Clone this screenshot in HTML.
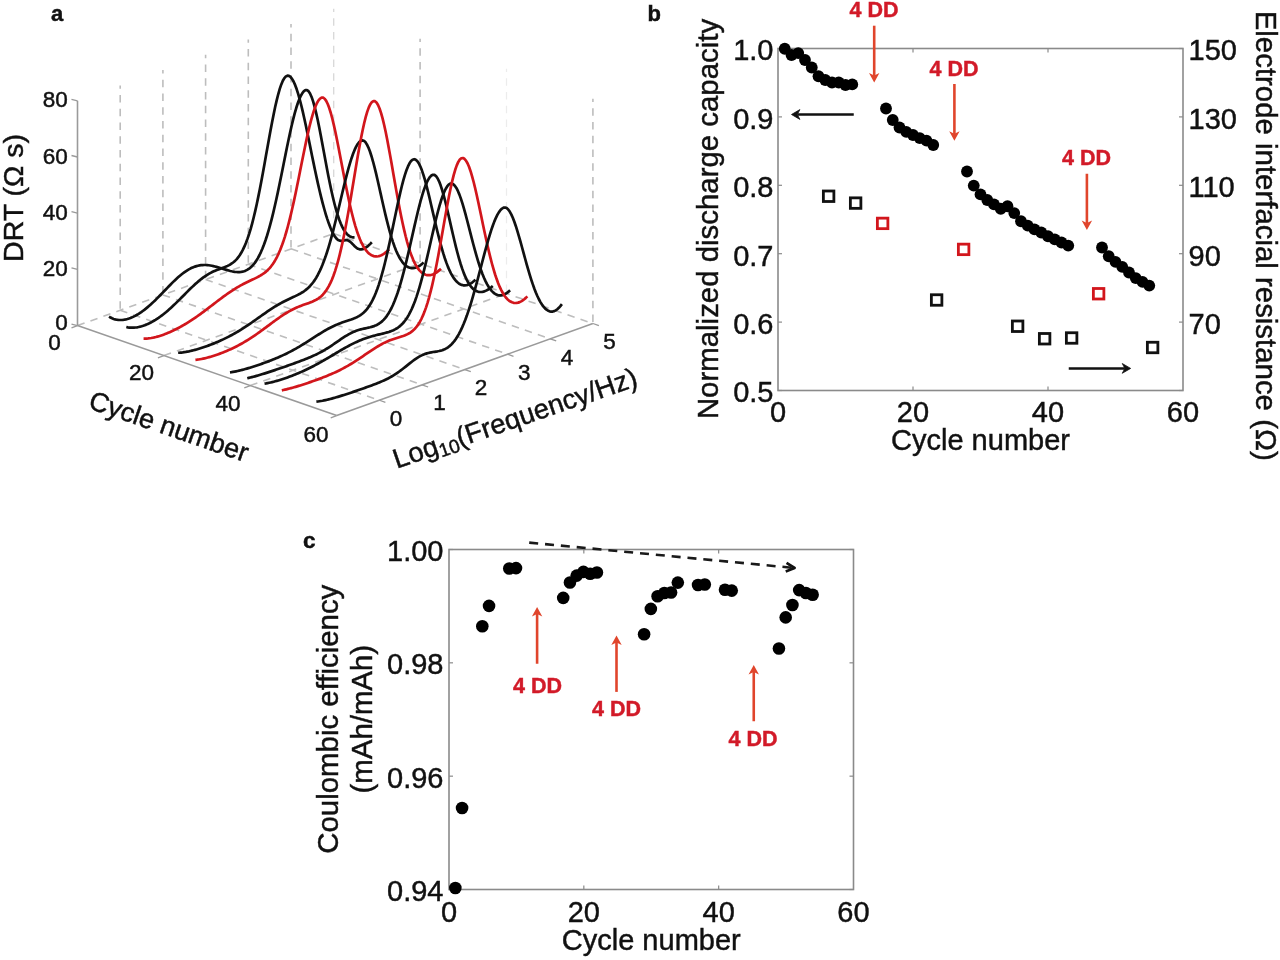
<!DOCTYPE html>
<html><head><meta charset="utf-8"><style>
html,body{margin:0;padding:0;background:#fff;overflow:hidden;width:1280px;height:960px;}
svg{display:block;filter:blur(0.4px);}
text{font-family:"Liberation Sans", sans-serif;}
</style></head><body>
<svg width="1280" height="960" viewBox="0 0 1280 960">
<rect width="1280" height="960" fill="#fff"/>
<g id="pa"><line x1="120.20" y1="310.25" x2="120.20" y2="85.45" stroke="#bdbdbd" stroke-width="1.6" stroke-dasharray="7.5 6.25" fill="none" stroke-dashoffset="-1.4"/>
<line x1="162.90" y1="294.90" x2="162.90" y2="70.10" stroke="#bdbdbd" stroke-width="1.6" stroke-dasharray="7.5 6.25" fill="none" stroke-dashoffset="-1.4"/>
<line x1="205.60" y1="279.55" x2="205.60" y2="54.75" stroke="#bdbdbd" stroke-width="1.6" stroke-dasharray="7.5 6.25" fill="none" stroke-dashoffset="-1.4"/>
<line x1="248.30" y1="264.20" x2="248.30" y2="39.40" stroke="#bdbdbd" stroke-width="1.6" stroke-dasharray="7.5 6.25" fill="none" stroke-dashoffset="-1.4"/>
<line x1="291.00" y1="248.85" x2="291.00" y2="24.05" stroke="#bdbdbd" stroke-width="1.6" stroke-dasharray="7.5 6.25" fill="none" stroke-dashoffset="-1.4"/>
<line x1="333.70" y1="233.50" x2="333.70" y2="8.70" stroke="#d8d8d8" stroke-width="1.3" stroke-dasharray="7.5 6.25" fill="none" stroke-dashoffset="-1.4"/>
<line x1="420.10" y1="263.50" x2="420.10" y2="38.70" stroke="#bdbdbd" stroke-width="1.6" stroke-dasharray="7.5 6.25" fill="none" stroke-dashoffset="-1.4"/>
<line x1="506.50" y1="293.50" x2="506.50" y2="68.70" stroke="#ececec" stroke-width="1.2" stroke-dasharray="7.5 6.25" fill="none" stroke-dashoffset="-1.4"/>
<line x1="592.90" y1="323.50" x2="592.90" y2="98.70" stroke="#bdbdbd" stroke-width="1.6" stroke-dasharray="7.5 6.25" fill="none" stroke-dashoffset="-1.4"/>
<line x1="120.20" y1="310.25" x2="379.40" y2="400.25" stroke="#bdbdbd" stroke-width="1.6" stroke-dasharray="7.5 6.25" fill="none"/>
<line x1="162.90" y1="294.90" x2="422.10" y2="384.90" stroke="#bdbdbd" stroke-width="1.6" stroke-dasharray="7.5 6.25" fill="none"/>
<line x1="205.60" y1="279.55" x2="464.80" y2="369.55" stroke="#bdbdbd" stroke-width="1.6" stroke-dasharray="7.5 6.25" fill="none"/>
<line x1="248.30" y1="264.20" x2="507.50" y2="354.20" stroke="#bdbdbd" stroke-width="1.6" stroke-dasharray="7.5 6.25" fill="none"/>
<line x1="291.00" y1="248.85" x2="550.20" y2="338.85" stroke="#bdbdbd" stroke-width="1.6" stroke-dasharray="7.5 6.25" fill="none"/>
<line x1="333.70" y1="233.50" x2="592.90" y2="323.50" stroke="#bdbdbd" stroke-width="1.6" stroke-dasharray="7.5 6.25" fill="none"/>
<line x1="77.50" y1="325.60" x2="333.70" y2="233.50" stroke="#bdbdbd" stroke-width="1.6" stroke-dasharray="7.5 6.25" fill="none"/>
<line x1="163.90" y1="355.60" x2="420.10" y2="263.50" stroke="#bdbdbd" stroke-width="1.6" stroke-dasharray="7.5 6.25" fill="none"/>
<line x1="250.30" y1="385.60" x2="506.50" y2="293.50" stroke="#bdbdbd" stroke-width="1.6" stroke-dasharray="7.5 6.25" fill="none"/>
<line x1="77.50" y1="325.60" x2="77.50" y2="100.80" stroke="#9a9a9a" stroke-width="1.6"/>
<line x1="77.50" y1="325.60" x2="336.70" y2="415.60" stroke="#9a9a9a" stroke-width="1.6"/>
<line x1="336.70" y1="415.60" x2="592.90" y2="323.50" stroke="#9a9a9a" stroke-width="1.6"/>
<line x1="77.50" y1="325.60" x2="71.50" y2="324.10" stroke="#9a9a9a" stroke-width="1.3"/>
<line x1="77.50" y1="269.40" x2="71.50" y2="267.90" stroke="#9a9a9a" stroke-width="1.3"/>
<line x1="77.50" y1="213.20" x2="71.50" y2="211.70" stroke="#9a9a9a" stroke-width="1.3"/>
<line x1="77.50" y1="157.00" x2="71.50" y2="155.50" stroke="#9a9a9a" stroke-width="1.3"/>
<line x1="77.50" y1="100.80" x2="71.50" y2="99.30" stroke="#9a9a9a" stroke-width="1.3"/>
<line x1="77.50" y1="325.60" x2="71.50" y2="327.80" stroke="#9a9a9a" stroke-width="1.3"/>
<line x1="163.90" y1="355.60" x2="157.90" y2="357.80" stroke="#9a9a9a" stroke-width="1.3"/>
<line x1="250.30" y1="385.60" x2="244.30" y2="387.80" stroke="#9a9a9a" stroke-width="1.3"/>
<line x1="336.70" y1="415.60" x2="330.70" y2="417.80" stroke="#9a9a9a" stroke-width="1.3"/>
<line x1="379.40" y1="400.25" x2="385.40" y2="402.35" stroke="#9a9a9a" stroke-width="1.3"/>
<line x1="422.10" y1="384.90" x2="428.10" y2="387.00" stroke="#9a9a9a" stroke-width="1.3"/>
<line x1="464.80" y1="369.55" x2="470.80" y2="371.65" stroke="#9a9a9a" stroke-width="1.3"/>
<line x1="507.50" y1="354.20" x2="513.50" y2="356.30" stroke="#9a9a9a" stroke-width="1.3"/>
<line x1="550.20" y1="338.85" x2="556.20" y2="340.95" stroke="#9a9a9a" stroke-width="1.3"/>
<line x1="592.90" y1="323.50" x2="598.90" y2="325.60" stroke="#9a9a9a" stroke-width="1.3"/>
<polyline points="109.02,316.60 110.56,317.54 112.09,318.31 113.62,318.93 115.16,319.39 116.69,319.72 118.23,319.93 119.76,320.02 121.30,320.01 122.83,319.89 124.37,319.67 125.90,319.37 127.44,318.98 128.97,318.50 130.50,317.95 132.04,317.32 133.57,316.62 135.11,315.85 136.64,315.01 138.18,314.10 139.71,313.13 141.25,312.10 142.78,311.00 144.32,309.85 145.85,308.65 147.38,307.39 148.92,306.08 150.45,304.73 151.99,303.33 153.52,301.89 155.06,300.42 156.59,298.91 158.13,297.37 159.66,295.81 161.20,294.24 162.73,292.65 164.26,291.05 165.80,289.45 167.33,287.86 168.87,286.27 170.40,284.70 171.94,283.16 173.47,281.64 175.01,280.17 176.54,278.73 178.07,277.34 179.61,276.00 181.14,274.73 182.68,273.51 184.21,272.37 185.75,271.30 187.28,270.31 188.82,269.40 190.35,268.57 191.89,267.83 193.42,267.17 194.95,266.60 196.49,266.12 198.02,265.73 199.56,265.43 201.09,265.21 202.63,265.07 204.16,265.01 205.70,265.02 207.23,265.11 208.77,265.27 210.30,265.48 211.83,265.76 213.37,266.08 214.90,266.45 216.44,266.85 217.97,267.29 219.51,267.75 221.04,268.22 222.58,268.70 224.11,269.18 225.65,269.66 227.18,270.12 228.71,270.55 230.25,270.95 231.78,271.30 233.32,271.61 234.85,271.84 236.39,272.00 237.92,272.08 239.46,272.05 240.99,271.91 242.53,271.64 244.06,271.23 245.59,270.66 247.13,269.91 248.66,268.97 250.20,267.81 251.73,266.42 253.27,264.78 254.80,262.86 256.34,260.64 257.87,258.12 259.41,255.26 260.94,252.06 262.47,248.49 264.01,244.54 265.54,240.22 267.08,235.50 268.61,230.40 270.15,224.92 271.68,219.06 273.22,212.84 274.75,206.30 276.28,199.45 277.82,192.34 279.35,185.01 280.89,177.51 282.42,169.90 283.96,162.25 285.49,154.61 287.03,147.07 288.56,139.69 290.10,132.56 291.63,125.76 293.16,119.35 294.70,113.42 296.23,108.03 297.77,103.25 299.30,99.13 300.84,95.72 302.37,93.07 303.91,91.21 305.44,90.14 306.98,90.05 308.51,91.17 310.04,93.48 311.58,96.93 313.11,101.42 314.65,106.86 316.18,113.12 317.72,120.08 319.25,127.59 320.79,135.50 322.32,143.69 323.86,152.00 325.39,160.31 326.92,168.49 328.46,176.43 329.99,184.05 331.53,191.26 333.06,198.00 334.60,204.22 336.13,209.89 337.67,214.99 339.20,219.52 340.74,223.48 342.27,226.88 343.80,229.74 345.34,232.10 346.87,233.97 348.41,235.39 349.94,236.40 351.48,237.03 353.01,237.33 354.55,237.32" fill="none" stroke="#111111" stroke-width="2.7" stroke-linejoin="round" stroke-linecap="butt"/>
<polyline points="126.30,327.00 127.84,327.33 129.37,327.55 130.90,327.68 132.44,327.71 133.97,327.66 135.51,327.52 137.04,327.31 138.58,327.02 140.11,326.67 141.65,326.25 143.18,325.77 144.72,325.22 146.25,324.62 147.78,323.96 149.32,323.25 150.85,322.48 152.39,321.65 153.92,320.77 155.46,319.85 156.99,318.87 158.53,317.84 160.06,316.76 161.60,315.63 163.13,314.46 164.66,313.24 166.20,311.98 167.73,310.67 169.27,309.33 170.80,307.95 172.34,306.54 173.87,305.09 175.41,303.62 176.94,302.12 178.48,300.61 180.01,299.08 181.54,297.53 183.08,295.98 184.61,294.43 186.15,292.89 187.68,291.35 189.22,289.83 190.75,288.33 192.29,286.85 193.82,285.41 195.35,284.00 196.89,282.64 198.42,281.32 199.96,280.05 201.49,278.84 203.03,277.69 204.56,276.59 206.10,275.56 207.63,274.59 209.17,273.69 210.70,272.85 212.23,272.07 213.77,271.34 215.30,270.67 216.84,270.04 218.37,269.44 219.91,268.87 221.44,268.31 222.98,267.75 224.51,267.17 226.05,266.55 227.58,265.87 229.11,265.11 230.65,264.24 232.18,263.22 233.72,262.05 235.25,260.67 236.79,259.06 238.32,257.19 239.86,255.02 241.39,252.53 242.93,249.67 244.46,246.42 245.99,242.75 247.53,238.64 249.06,234.07 250.60,229.04 252.13,223.52 253.67,217.53 255.20,211.08 256.74,204.18 258.27,196.87 259.81,189.19 261.34,181.18 262.87,172.91 264.41,164.44 265.94,155.85 267.48,147.24 269.01,138.68 270.55,130.29 272.08,122.16 273.62,114.39 275.15,107.08 276.69,100.34 278.22,94.26 279.75,88.92 281.29,84.41 282.82,80.78 284.36,78.09 285.89,76.37 287.43,75.66 288.96,75.87 290.50,76.92 292.03,78.80 293.56,81.48 295.10,84.92 296.63,89.08 298.17,93.89 299.70,99.31 301.24,105.26 302.77,111.67 304.31,118.46 305.84,125.55 307.38,132.86 308.91,140.33 310.44,147.87 311.98,155.41 313.51,162.89 315.05,170.24 316.58,177.40 318.12,184.34 319.65,191.00 321.19,197.35 322.72,203.35 324.26,209.00 325.79,214.26 327.32,219.12 328.86,223.57 330.39,227.58 331.93,231.14 333.46,234.19 335.00,236.71 336.53,238.63 338.07,239.93 339.60,240.64 341.14,240.82 342.67,240.64 344.20,240.32 345.74,240.11 347.27,240.22 348.81,240.81 350.34,241.87 351.88,243.31 353.41,244.93 354.95,246.50 356.48,247.84 358.02,248.80 359.55,249.34 361.08,249.45 362.62,249.17 364.15,248.57 365.69,247.69 367.22,246.60 368.76,245.32 370.29,243.87 371.83,242.29" fill="none" stroke="#111111" stroke-width="2.7" stroke-linejoin="round" stroke-linecap="butt"/>
<polyline points="143.58,338.64 145.12,338.64 146.65,338.56 148.18,338.43 149.72,338.24 151.25,338.01 152.79,337.72 154.32,337.40 155.86,337.03 157.39,336.62 158.93,336.18 160.46,335.71 162.00,335.20 163.53,334.66 165.06,334.09 166.60,333.49 168.13,332.86 169.67,332.21 171.20,331.53 172.74,330.82 174.27,330.09 175.81,329.33 177.34,328.55 178.88,327.74 180.41,326.91 181.94,326.05 183.48,325.17 185.01,324.27 186.55,323.34 188.08,322.39 189.62,321.42 191.15,320.43 192.69,319.41 194.22,318.38 195.76,317.33 197.29,316.25 198.82,315.17 200.36,314.06 201.89,312.94 203.43,311.81 204.96,310.67 206.50,309.51 208.03,308.35 209.57,307.18 211.10,306.00 212.63,304.83 214.17,303.65 215.70,302.47 217.24,301.30 218.77,300.14 220.31,298.98 221.84,297.83 223.38,296.70 224.91,295.58 226.45,294.48 227.98,293.40 229.51,292.34 231.05,291.31 232.58,290.30 234.12,289.32 235.65,288.37 237.19,287.44 238.72,286.55 240.26,285.68 241.79,284.84 243.33,284.03 244.86,283.25 246.39,282.49 247.93,281.75 249.46,281.02 251.00,280.30 252.53,279.58 254.07,278.86 255.60,278.12 257.14,277.35 258.67,276.55 260.21,275.69 261.74,274.75 263.27,273.73 264.81,272.60 266.34,271.34 267.88,269.92 269.41,268.33 270.95,266.53 272.48,264.50 274.02,262.22 275.55,259.65 277.09,256.78 278.62,253.58 280.15,250.03 281.69,246.11 283.22,241.80 284.76,237.10 286.29,232.00 287.83,226.50 289.36,220.62 290.90,214.37 292.43,207.77 293.97,200.86 295.50,193.67 297.03,186.26 298.57,178.69 300.10,171.01 301.64,163.31 303.17,155.66 304.71,148.15 306.24,140.85 307.78,133.86 309.31,127.27 310.84,121.15 312.38,115.60 313.91,110.68 315.45,106.47 316.98,103.01 318.52,100.37 320.05,98.58 321.59,97.66 323.12,97.67 324.66,98.74 326.19,100.87 327.72,103.99 329.26,108.06 330.79,113.00 332.33,118.71 333.86,125.10 335.40,132.05 336.93,139.46 338.47,147.20 340.00,155.16 341.54,163.23 343.07,171.29 344.60,179.25 346.14,187.02 347.67,194.53 349.21,201.69 350.74,208.46 352.28,214.80 353.81,220.68 355.35,226.06 356.88,230.96 358.42,235.36 359.95,239.27 361.48,242.72 363.02,245.71 364.55,248.27 366.09,250.44 367.62,252.22 369.16,253.66 370.69,254.78 372.23,255.60 373.76,256.14 375.30,256.42 376.83,256.47 378.36,256.27 379.90,255.86 381.43,255.24 382.97,254.41 384.50,253.39 386.04,252.18 387.57,250.80 389.11,249.26" fill="none" stroke="#d2161c" stroke-width="2.7" stroke-linejoin="round" stroke-linecap="butt"/>
<polyline points="178.14,352.73 179.68,352.66 181.21,352.54 182.74,352.37 184.28,352.16 185.81,351.92 187.35,351.64 188.88,351.34 190.42,351.00 191.95,350.64 193.49,350.26 195.02,349.86 196.56,349.43 198.09,348.98 199.62,348.52 201.16,348.04 202.69,347.54 204.23,347.03 205.76,346.50 207.30,345.95 208.83,345.39 210.37,344.82 211.90,344.22 213.44,343.62 214.97,342.99 216.50,342.35 218.04,341.70 219.57,341.02 221.11,340.33 222.64,339.62 224.18,338.90 225.71,338.15 227.25,337.39 228.78,336.60 230.32,335.80 231.85,334.97 233.38,334.13 234.92,333.26 236.45,332.38 237.99,331.47 239.52,330.54 241.06,329.60 242.59,328.63 244.13,327.65 245.66,326.65 247.19,325.63 248.73,324.60 250.26,323.55 251.80,322.49 253.33,321.42 254.87,320.35 256.40,319.26 257.94,318.18 259.47,317.09 261.01,316.00 262.54,314.92 264.07,313.84 265.61,312.77 267.14,311.72 268.68,310.68 270.21,309.65 271.75,308.64 273.28,307.66 274.82,306.70 276.35,305.76 277.89,304.85 279.42,303.97 280.95,303.12 282.49,302.29 284.02,301.49 285.56,300.71 287.09,299.96 288.63,299.22 290.16,298.50 291.70,297.79 293.23,297.08 294.77,296.36 296.30,295.63 297.83,294.86 299.37,294.06 300.90,293.20 302.44,292.28 303.97,291.27 305.51,290.15 307.04,288.91 308.58,287.52 310.11,285.97 311.65,284.23 313.18,282.28 314.71,280.10 316.25,277.66 317.78,274.96 319.32,271.96 320.85,268.66 322.39,265.05 323.92,261.10 325.46,256.83 326.99,252.23 328.53,247.31 330.06,242.08 331.59,236.56 333.13,230.78 334.66,224.76 336.20,218.55 337.73,212.19 339.27,205.73 340.80,199.23 342.34,192.76 343.87,186.38 345.40,180.15 346.94,174.15 348.47,168.44 350.01,163.10 351.54,158.20 353.08,153.79 354.61,149.93 356.15,146.67 357.68,144.05 359.22,142.11 360.75,140.87 362.28,140.35 363.82,140.75 365.35,142.11 366.89,144.40 368.42,147.56 369.96,151.52 371.49,156.21 373.03,161.53 374.56,167.38 376.10,173.64 377.63,180.22 379.16,186.99 380.70,193.86 382.23,200.73 383.77,207.49 385.30,214.07 386.84,220.40 388.37,226.41 389.91,232.05 391.44,237.30 392.98,242.11 394.51,246.49 396.04,250.42 397.58,253.91 399.11,256.96 400.65,259.59 402.18,261.82 403.72,263.68 405.25,265.18 406.79,266.35 408.32,267.21 409.86,267.78 411.39,268.08 412.92,268.13 414.46,267.94 415.99,267.52 417.53,266.89 419.06,266.06 420.60,265.04 422.13,263.85 423.67,262.50" fill="none" stroke="#111111" stroke-width="2.7" stroke-linejoin="round" stroke-linecap="butt"/>
<polyline points="195.42,359.88 196.96,359.71 198.49,359.50 200.02,359.25 201.56,358.97 203.09,358.66 204.63,358.32 206.16,357.95 207.70,357.56 209.23,357.14 210.77,356.70 212.30,356.23 213.84,355.75 215.37,355.25 216.90,354.73 218.44,354.19 219.97,353.63 221.51,353.05 223.04,352.45 224.58,351.83 226.11,351.20 227.65,350.54 229.18,349.87 230.72,349.17 232.25,348.46 233.78,347.72 235.32,346.96 236.85,346.18 238.39,345.38 239.92,344.56 241.46,343.71 242.99,342.84 244.53,341.95 246.06,341.03 247.60,340.09 249.13,339.13 250.66,338.14 252.20,337.14 253.73,336.11 255.27,335.07 256.80,334.00 258.34,332.92 259.87,331.82 261.41,330.71 262.94,329.59 264.47,328.46 266.01,327.32 267.54,326.18 269.08,325.04 270.61,323.89 272.15,322.75 273.68,321.62 275.22,320.50 276.75,319.40 278.29,318.31 279.82,317.24 281.35,316.19 282.89,315.17 284.42,314.18 285.96,313.23 287.49,312.30 289.03,311.41 290.56,310.56 292.10,309.75 293.63,308.97 295.17,308.24 296.70,307.54 298.23,306.88 299.77,306.25 301.30,305.66 302.84,305.09 304.37,304.53 305.91,303.99 307.44,303.45 308.98,302.91 310.51,302.34 312.05,301.73 313.58,301.07 315.11,300.33 316.65,299.50 318.18,298.55 319.72,297.45 321.25,296.17 322.79,294.68 324.32,292.94 325.86,290.93 327.39,288.61 328.93,285.94 330.46,282.89 331.99,279.42 333.53,275.50 335.06,271.10 336.60,266.21 338.13,260.80 339.67,254.88 341.20,248.43 342.74,241.47 344.27,234.02 345.81,226.11 347.34,217.79 348.87,209.12 350.41,200.16 351.94,191.00 353.48,181.73 355.01,172.45 356.55,163.27 358.08,154.30 359.62,145.68 361.15,137.51 362.68,129.91 364.22,123.00 365.75,116.89 367.29,111.66 368.82,107.41 370.36,104.19 371.89,102.06 373.43,101.05 374.96,101.20 376.50,102.52 378.03,104.98 379.56,108.54 381.10,113.12 382.63,118.63 384.17,124.98 385.70,132.06 387.24,139.73 388.77,147.88 390.31,156.37 391.84,165.09 393.38,173.90 394.91,182.70 396.44,191.37 397.98,199.82 399.51,207.96 401.05,215.73 402.58,223.07 404.12,229.92 405.65,236.27 407.19,242.09 408.72,247.38 410.26,252.13 411.79,256.35 413.32,260.07 414.86,263.30 416.39,266.07 417.93,268.41 419.46,270.35 421.00,271.93 422.53,273.16 424.07,274.08 425.60,274.72 427.14,275.08 428.67,275.20 430.20,275.09 431.74,274.75 433.27,274.21 434.81,273.47 436.34,272.54 437.88,271.43 439.41,270.15 440.95,268.73" fill="none" stroke="#d2161c" stroke-width="2.7" stroke-linejoin="round" stroke-linecap="butt"/>
<polyline points="229.98,372.38 231.52,372.17 233.05,371.92 234.58,371.64 236.12,371.33 237.65,371.00 239.19,370.65 240.72,370.27 242.26,369.88 243.79,369.47 245.33,369.05 246.86,368.61 248.40,368.16 249.93,367.70 251.46,367.22 253.00,366.74 254.53,366.24 256.07,365.74 257.60,365.22 259.14,364.70 260.67,364.17 262.21,363.63 263.74,363.08 265.28,362.52 266.81,361.95 268.34,361.37 269.88,360.78 271.41,360.18 272.95,359.57 274.48,358.94 276.02,358.30 277.55,357.65 279.09,356.99 280.62,356.31 282.16,355.61 283.69,354.90 285.22,354.17 286.76,353.43 288.29,352.66 289.83,351.88 291.36,351.08 292.90,350.26 294.43,349.42 295.97,348.56 297.50,347.69 299.03,346.79 300.57,345.88 302.10,344.96 303.64,344.01 305.17,343.06 306.71,342.09 308.24,341.12 309.78,340.14 311.31,339.15 312.85,338.16 314.38,337.17 315.91,336.19 317.45,335.21 318.98,334.24 320.52,333.28 322.05,332.34 323.59,331.42 325.12,330.52 326.66,329.65 328.19,328.80 329.73,327.98 331.26,327.19 332.79,326.43 334.33,325.71 335.86,325.02 337.40,324.37 338.93,323.75 340.47,323.15 342.00,322.59 343.54,322.05 345.07,321.53 346.61,321.01 348.14,320.51 349.67,319.99 351.21,319.47 352.74,318.91 354.28,318.31 355.81,317.65 357.35,316.91 358.88,316.07 360.42,315.11 361.95,314.00 363.49,312.73 365.02,311.26 366.55,309.56 368.09,307.60 369.62,305.37 371.16,302.82 372.69,299.94 374.23,296.69 375.76,293.06 377.30,289.03 378.83,284.60 380.37,279.75 381.90,274.48 383.43,268.81 384.97,262.76 386.50,256.36 388.04,249.65 389.57,242.67 391.11,235.48 392.64,228.15 394.18,220.77 395.71,213.41 397.24,206.16 398.78,199.11 400.31,192.38 401.85,186.03 403.38,180.18 404.92,174.91 406.45,170.30 407.99,166.43 409.52,163.34 411.06,161.09 412.59,159.71 414.12,159.22 415.66,159.65 417.19,161.00 418.73,163.22 420.26,166.28 421.80,170.09 423.33,174.60 424.87,179.71 426.40,185.32 427.94,191.34 429.47,197.67 431.00,204.20 432.54,210.84 434.07,217.49 435.61,224.06 437.14,230.48 438.68,236.68 440.21,242.60 441.75,248.18 443.28,253.40 444.82,258.22 446.35,262.63 447.88,266.61 449.42,270.18 450.95,273.32 452.49,276.06 454.02,278.41 455.56,280.38 457.09,282.00 458.63,283.28 460.16,284.25 461.70,284.91 463.23,285.29 464.76,285.40 466.30,285.25 467.83,284.86 469.37,284.23 470.90,283.38 472.44,282.32 473.97,281.07 475.51,279.64" fill="none" stroke="#111111" stroke-width="2.7" stroke-linejoin="round" stroke-linecap="butt"/>
<polyline points="247.26,378.23 248.80,377.88 250.33,377.52 251.86,377.14 253.40,376.74 254.93,376.33 256.47,375.90 258.00,375.46 259.54,375.01 261.07,374.55 262.61,374.08 264.14,373.61 265.68,373.12 267.21,372.63 268.74,372.14 270.28,371.63 271.81,371.13 273.35,370.62 274.88,370.10 276.42,369.58 277.95,369.06 279.49,368.53 281.02,368.00 282.56,367.47 284.09,366.94 285.62,366.40 287.16,365.86 288.69,365.32 290.23,364.78 291.76,364.23 293.30,363.68 294.83,363.13 296.37,362.57 297.90,362.01 299.44,361.44 300.97,360.86 302.50,360.28 304.04,359.68 305.57,359.08 307.11,358.47 308.64,357.84 310.18,357.19 311.71,356.53 313.25,355.84 314.78,355.14 316.31,354.41 317.85,353.65 319.38,352.87 320.92,352.06 322.45,351.22 323.99,350.34 325.52,349.44 327.06,348.50 328.59,347.54 330.13,346.55 331.66,345.53 333.19,344.50 334.73,343.45 336.26,342.39 337.80,341.33 339.33,340.27 340.87,339.22 342.40,338.19 343.94,337.19 345.47,336.22 347.01,335.29 348.54,334.41 350.07,333.58 351.61,332.80 353.14,332.09 354.68,331.43 356.21,330.84 357.75,330.30 359.28,329.82 360.82,329.39 362.35,329.00 363.89,328.64 365.42,328.31 366.95,327.98 368.49,327.64 370.02,327.28 371.56,326.87 373.09,326.41 374.63,325.86 376.16,325.21 377.70,324.44 379.23,323.52 380.77,322.42 382.30,321.13 383.83,319.63 385.37,317.87 386.90,315.86 388.44,313.55 389.97,310.94 391.51,308.00 393.04,304.72 394.58,301.08 396.11,297.08 397.65,292.71 399.18,287.98 400.71,282.89 402.25,277.46 403.78,271.70 405.32,265.66 406.85,259.36 408.39,252.85 409.92,246.19 411.46,239.42 412.99,232.63 414.52,225.87 416.06,219.22 417.59,212.77 419.13,206.59 420.66,200.76 422.20,195.36 423.73,190.46 425.27,186.12 426.80,182.42 428.34,179.39 429.87,177.08 431.40,175.52 432.94,174.73 434.47,174.89 436.01,176.08 437.54,178.25 439.08,181.36 440.61,185.32 442.15,190.03 443.68,195.38 445.22,201.26 446.75,207.55 448.28,214.11 449.82,220.83 451.35,227.59 452.89,234.27 454.42,240.79 455.96,247.06 457.49,253.00 459.03,258.57 460.56,263.71 462.10,268.41 463.63,272.63 465.16,276.39 466.70,279.69 468.23,282.53 469.77,284.95 471.30,286.96 472.84,288.59 474.37,289.87 475.91,290.83 477.44,291.49 478.98,291.87 480.51,292.01 482.04,291.92 483.58,291.61 485.11,291.09 486.65,290.39 488.18,289.51 489.72,288.47 491.25,287.27 492.79,285.95" fill="none" stroke="#111111" stroke-width="2.7" stroke-linejoin="round" stroke-linecap="butt"/>
<polyline points="264.54,383.62 266.08,383.38 267.61,383.10 269.14,382.79 270.68,382.46 272.21,382.10 273.75,381.71 275.28,381.31 276.82,380.88 278.35,380.44 279.89,379.97 281.42,379.49 282.96,378.99 284.49,378.48 286.02,377.95 287.56,377.41 289.09,376.85 290.63,376.28 292.16,375.69 293.70,375.09 295.23,374.47 296.77,373.84 298.30,373.20 299.84,372.54 301.37,371.86 302.90,371.18 304.44,370.47 305.97,369.75 307.51,369.02 309.04,368.27 310.58,367.51 312.11,366.73 313.65,365.94 315.18,365.13 316.72,364.31 318.25,363.47 319.78,362.63 321.32,361.77 322.85,360.90 324.39,360.01 325.92,359.12 327.46,358.23 328.99,357.32 330.53,356.41 332.06,355.50 333.59,354.58 335.13,353.67 336.66,352.75 338.20,351.84 339.73,350.94 341.27,350.04 342.80,349.16 344.34,348.28 345.87,347.42 347.41,346.57 348.94,345.74 350.47,344.93 352.01,344.15 353.54,343.38 355.08,342.64 356.61,341.92 358.15,341.23 359.68,340.57 361.22,339.94 362.75,339.33 364.29,338.75 365.82,338.20 367.35,337.68 368.89,337.19 370.42,336.72 371.96,336.27 373.49,335.85 375.03,335.45 376.56,335.06 378.10,334.68 379.63,334.32 381.17,333.95 382.70,333.59 384.23,333.21 385.77,332.81 387.30,332.38 388.84,331.92 390.37,331.40 391.91,330.83 393.44,330.17 394.98,329.41 396.51,328.54 398.05,327.54 399.58,326.38 401.11,325.04 402.65,323.50 404.18,321.74 405.72,319.73 407.25,317.44 408.79,314.86 410.32,311.96 411.86,308.72 413.39,305.13 414.93,301.18 416.46,296.85 417.99,292.16 419.53,287.11 421.06,281.70 422.60,275.97 424.13,269.94 425.67,263.66 427.20,257.16 428.74,250.52 430.27,243.79 431.80,237.04 433.34,230.35 434.87,223.81 436.41,217.49 437.94,211.49 439.48,205.89 441.01,200.77 442.55,196.19 444.08,192.25 445.62,188.98 447.15,186.44 448.68,184.66 450.22,183.68 451.75,183.51 453.29,184.18 454.82,185.68 456.36,187.95 457.89,190.96 459.43,194.64 460.96,198.91 462.50,203.70 464.03,208.91 465.56,214.45 467.10,220.23 468.63,226.16 470.17,232.15 471.70,238.12 473.24,243.99 474.77,249.70 476.31,255.17 477.84,260.37 479.38,265.25 480.91,269.79 482.44,273.95 483.98,277.73 485.51,281.12 487.05,284.13 488.58,286.75 490.12,289.00 491.65,290.88 493.19,292.42 494.72,293.63 496.26,294.51 497.79,295.09 499.32,295.38 500.86,295.39 502.39,295.13 503.93,294.62 505.46,293.86 507.00,292.86 508.53,291.66 510.07,290.27" fill="none" stroke="#111111" stroke-width="2.7" stroke-linejoin="round" stroke-linecap="butt"/>
<polyline points="281.82,390.31 283.36,390.00 284.89,389.66 286.42,389.31 287.96,388.93 289.49,388.54 291.03,388.13 292.56,387.71 294.10,387.27 295.63,386.83 297.17,386.37 298.70,385.90 300.24,385.42 301.77,384.94 303.30,384.44 304.84,383.94 306.37,383.43 307.91,382.91 309.44,382.39 310.98,381.86 312.51,381.32 314.05,380.78 315.58,380.23 317.12,379.67 318.65,379.11 320.18,378.53 321.72,377.95 323.25,377.35 324.79,376.75 326.32,376.14 327.86,375.51 329.39,374.87 330.93,374.22 332.46,373.55 334.00,372.86 335.53,372.16 337.06,371.44 338.60,370.70 340.13,369.94 341.67,369.16 343.20,368.36 344.74,367.53 346.27,366.69 347.81,365.82 349.34,364.92 350.87,364.01 352.41,363.07 353.94,362.12 355.48,361.14 357.01,360.14 358.55,359.13 360.08,358.11 361.62,357.07 363.15,356.03 364.69,354.98 366.22,353.93 367.75,352.89 369.29,351.85 370.82,350.82 372.36,349.80 373.89,348.81 375.43,347.83 376.96,346.88 378.50,345.97 380.03,345.08 381.57,344.24 383.10,343.43 384.63,342.66 386.17,341.94 387.70,341.26 389.24,340.62 390.77,340.01 392.31,339.45 393.84,338.92 395.38,338.42 396.91,337.94 398.45,337.47 399.98,337.00 401.51,336.51 403.05,336.00 404.58,335.45 406.12,334.82 407.65,334.11 409.19,333.29 410.72,332.32 412.26,331.18 413.79,329.83 415.33,328.25 416.86,326.38 418.39,324.21 419.93,321.68 421.46,318.76 423.00,315.42 424.53,311.62 426.07,307.34 427.60,302.56 429.14,297.26 430.67,291.45 432.21,285.11 433.74,278.28 435.27,270.99 436.81,263.26 438.34,255.18 439.88,246.79 441.41,238.20 442.95,229.49 444.48,220.77 446.02,212.17 447.55,203.80 449.08,195.78 450.62,188.26 452.15,181.34 453.69,175.14 455.22,169.78 456.76,165.34 458.29,161.90 459.83,159.52 461.36,158.24 462.90,158.03 464.43,158.82 465.96,160.57 467.50,163.26 469.03,166.82 470.57,171.18 472.10,176.28 473.64,182.00 475.17,188.26 476.71,194.94 478.24,201.95 479.78,209.18 481.31,216.53 482.84,223.90 484.38,231.19 485.91,238.32 487.45,245.23 488.98,251.84 490.52,258.12 492.05,264.00 493.59,269.47 495.12,274.50 496.66,279.09 498.19,283.22 499.72,286.91 501.26,290.17 502.79,293.00 504.33,295.44 505.86,297.49 507.40,299.18 508.93,300.54 510.47,301.58 512.00,302.33 513.54,302.79 515.07,302.99 516.60,302.94 518.14,302.65 519.67,302.12 521.21,301.37 522.74,300.41 524.28,299.24 525.81,297.88 527.35,296.35" fill="none" stroke="#d2161c" stroke-width="2.7" stroke-linejoin="round" stroke-linecap="butt"/>
<polyline points="316.38,401.65 317.92,401.47 319.45,401.25 320.98,401.00 322.52,400.73 324.05,400.42 325.59,400.09 327.12,399.74 328.66,399.37 330.19,398.98 331.73,398.58 333.26,398.16 334.80,397.73 336.33,397.28 337.86,396.83 339.40,396.37 340.93,395.89 342.47,395.41 344.00,394.93 345.54,394.43 347.07,393.93 348.61,393.43 350.14,392.92 351.68,392.41 353.21,391.89 354.74,391.37 356.28,390.85 357.81,390.32 359.35,389.79 360.88,389.25 362.42,388.72 363.95,388.18 365.49,387.63 367.02,387.08 368.56,386.53 370.09,385.97 371.62,385.41 373.16,384.84 374.69,384.25 376.23,383.66 377.76,383.05 379.30,382.43 380.83,381.79 382.37,381.12 383.90,380.43 385.43,379.72 386.97,378.97 388.50,378.19 390.04,377.36 391.57,376.50 393.11,375.59 394.64,374.64 396.18,373.64 397.71,372.60 399.25,371.51 400.78,370.39 402.31,369.22 403.85,368.03 405.38,366.82 406.92,365.59 408.45,364.36 409.99,363.14 411.52,361.94 413.06,360.77 414.59,359.65 416.13,358.59 417.66,357.59 419.19,356.67 420.73,355.84 422.26,355.09 423.80,354.43 425.33,353.85 426.87,353.36 428.40,352.95 429.94,352.60 431.47,352.30 433.01,352.04 434.54,351.80 436.07,351.56 437.61,351.30 439.14,351.00 440.68,350.63 442.21,350.17 443.75,349.61 445.28,348.91 446.82,348.06 448.35,347.04 449.89,345.83 451.42,344.41 452.95,342.76 454.49,340.87 456.02,338.72 457.56,336.30 459.09,333.61 460.63,330.64 462.16,327.37 463.70,323.81 465.23,319.96 466.77,315.82 468.30,311.41 469.83,306.72 471.37,301.78 472.90,296.62 474.44,291.24 475.97,285.69 477.51,280.00 479.04,274.21 480.58,268.35 482.11,262.48 483.64,256.65 485.18,250.91 486.71,245.31 488.25,239.92 489.78,234.77 491.32,229.94 492.85,225.46 494.39,221.39 495.92,217.78 497.46,214.66 498.99,212.07 500.52,210.03 502.06,208.57 503.59,207.69 505.13,207.50 506.66,208.10 508.20,209.47 509.73,211.57 511.27,214.36 512.80,217.78 514.34,221.76 515.87,226.22 517.40,231.09 518.94,236.28 520.47,241.70 522.01,247.26 523.54,252.89 525.08,258.51 526.61,264.04 528.15,269.43 529.68,274.61 531.22,279.53 532.75,284.17 534.28,288.47 535.82,292.43 537.35,296.03 538.89,299.25 540.42,302.10 541.96,304.56 543.49,306.65 545.03,308.37 546.56,309.72 548.10,310.70 549.63,311.33 551.16,311.61 552.70,311.53 554.23,311.11 555.77,310.34 557.30,309.25 558.84,307.84 560.37,306.13 561.91,304.15" fill="none" stroke="#111111" stroke-width="2.7" stroke-linejoin="round" stroke-linecap="butt"/>
<text x="67.80" y="330.40" font-size="22.50" text-anchor="end" font-weight="normal" fill="#111"  stroke="#111" stroke-width="0.45">0</text>
<text x="67.80" y="276.30" font-size="22.50" text-anchor="end" font-weight="normal" fill="#111"  stroke="#111" stroke-width="0.45">20</text>
<text x="67.80" y="220.10" font-size="22.50" text-anchor="end" font-weight="normal" fill="#111"  stroke="#111" stroke-width="0.45">40</text>
<text x="67.80" y="163.90" font-size="22.50" text-anchor="end" font-weight="normal" fill="#111"  stroke="#111" stroke-width="0.45">60</text>
<text x="67.80" y="107.20" font-size="22.50" text-anchor="end" font-weight="normal" fill="#111"  stroke="#111" stroke-width="0.45">80</text>
<text x="54.50" y="350.00" font-size="22.50" text-anchor="middle" font-weight="normal" fill="#111"  stroke="#111" stroke-width="0.45">0</text>
<text x="141.50" y="380.00" font-size="22.50" text-anchor="middle" font-weight="normal" fill="#111"  stroke="#111" stroke-width="0.45">20</text>
<text x="228.00" y="411.00" font-size="22.50" text-anchor="middle" font-weight="normal" fill="#111"  stroke="#111" stroke-width="0.45">40</text>
<text x="316.00" y="441.50" font-size="22.50" text-anchor="middle" font-weight="normal" fill="#111"  stroke="#111" stroke-width="0.45">60</text>
<text x="396.00" y="426.00" font-size="22.50" text-anchor="middle" font-weight="normal" fill="#111"  stroke="#111" stroke-width="0.45">0</text>
<text x="439.50" y="410.00" font-size="22.50" text-anchor="middle" font-weight="normal" fill="#111"  stroke="#111" stroke-width="0.45">1</text>
<text x="481.00" y="395.00" font-size="22.50" text-anchor="middle" font-weight="normal" fill="#111"  stroke="#111" stroke-width="0.45">2</text>
<text x="524.20" y="380.00" font-size="22.50" text-anchor="middle" font-weight="normal" fill="#111"  stroke="#111" stroke-width="0.45">3</text>
<text x="567.00" y="364.50" font-size="22.50" text-anchor="middle" font-weight="normal" fill="#111"  stroke="#111" stroke-width="0.45">4</text>
<text x="609.50" y="349.00" font-size="22.50" text-anchor="middle" font-weight="normal" fill="#111"  stroke="#111" stroke-width="0.45">5</text>
<text transform="translate(22.5,198) rotate(-90)" font-size="28.5" text-anchor="middle" fill="#111" stroke="#111" stroke-width="0.45">DRT (Ω s)</text>
<text transform="translate(166,435) rotate(19)" font-size="27" text-anchor="middle" fill="#111" stroke="#111" stroke-width="0.45">Cycle number</text>
<text transform="translate(518,427) rotate(-19)" font-size="27.5" text-anchor="middle" fill="#111" stroke="#111" stroke-width="0.45">Log<tspan font-size="19" dy="4">10</tspan><tspan dy="-4">(Frequency/Hz)</tspan></text>
<text x="51.00" y="21.20" font-size="22.00" text-anchor="start" font-weight="bold" fill="#111"  stroke="#111" stroke-width="0.45">a</text></g>
<g id="pb"><rect x="778.00" y="48.50" width="405.00" height="342.00" stroke="#8a8a8a" stroke-width="1.6" fill="none"/>
<line x1="778.00" y1="390.50" x2="782.00" y2="390.50" stroke="#8a8a8a" stroke-width="1.2"/>
<line x1="1183.00" y1="390.50" x2="1179.00" y2="390.50" stroke="#8a8a8a" stroke-width="1.2"/>
<line x1="778.00" y1="322.10" x2="782.00" y2="322.10" stroke="#8a8a8a" stroke-width="1.2"/>
<line x1="1183.00" y1="322.10" x2="1179.00" y2="322.10" stroke="#8a8a8a" stroke-width="1.2"/>
<line x1="778.00" y1="253.70" x2="782.00" y2="253.70" stroke="#8a8a8a" stroke-width="1.2"/>
<line x1="1183.00" y1="253.70" x2="1179.00" y2="253.70" stroke="#8a8a8a" stroke-width="1.2"/>
<line x1="778.00" y1="185.30" x2="782.00" y2="185.30" stroke="#8a8a8a" stroke-width="1.2"/>
<line x1="1183.00" y1="185.30" x2="1179.00" y2="185.30" stroke="#8a8a8a" stroke-width="1.2"/>
<line x1="778.00" y1="116.90" x2="782.00" y2="116.90" stroke="#8a8a8a" stroke-width="1.2"/>
<line x1="1183.00" y1="116.90" x2="1179.00" y2="116.90" stroke="#8a8a8a" stroke-width="1.2"/>
<line x1="778.00" y1="48.50" x2="782.00" y2="48.50" stroke="#8a8a8a" stroke-width="1.2"/>
<line x1="1183.00" y1="48.50" x2="1179.00" y2="48.50" stroke="#8a8a8a" stroke-width="1.2"/>
<line x1="913.00" y1="390.50" x2="913.00" y2="386.50" stroke="#8a8a8a" stroke-width="1.2"/>
<line x1="913.00" y1="48.50" x2="913.00" y2="52.50" stroke="#8a8a8a" stroke-width="1.2"/>
<line x1="1048.00" y1="390.50" x2="1048.00" y2="386.50" stroke="#8a8a8a" stroke-width="1.2"/>
<line x1="1048.00" y1="48.50" x2="1048.00" y2="52.50" stroke="#8a8a8a" stroke-width="1.2"/>
<text x="773.50" y="60.30" font-size="29.00" text-anchor="end" font-weight="normal" fill="#111"  stroke="#111" stroke-width="0.45">1.0</text>
<text x="773.50" y="128.70" font-size="29.00" text-anchor="end" font-weight="normal" fill="#111"  stroke="#111" stroke-width="0.45">0.9</text>
<text x="773.50" y="197.10" font-size="29.00" text-anchor="end" font-weight="normal" fill="#111"  stroke="#111" stroke-width="0.45">0.8</text>
<text x="773.50" y="265.50" font-size="29.00" text-anchor="end" font-weight="normal" fill="#111"  stroke="#111" stroke-width="0.45">0.7</text>
<text x="773.50" y="333.90" font-size="29.00" text-anchor="end" font-weight="normal" fill="#111"  stroke="#111" stroke-width="0.45">0.6</text>
<text x="773.50" y="402.30" font-size="29.00" text-anchor="end" font-weight="normal" fill="#111"  stroke="#111" stroke-width="0.45">0.5</text>
<text x="1188.50" y="60.30" font-size="29.00" text-anchor="start" font-weight="normal" fill="#111"  stroke="#111" stroke-width="0.45">150</text>
<text x="1188.50" y="128.70" font-size="29.00" text-anchor="start" font-weight="normal" fill="#111"  stroke="#111" stroke-width="0.45">130</text>
<text x="1188.50" y="197.10" font-size="29.00" text-anchor="start" font-weight="normal" fill="#111"  stroke="#111" stroke-width="0.45">110</text>
<text x="1188.50" y="265.50" font-size="29.00" text-anchor="start" font-weight="normal" fill="#111"  stroke="#111" stroke-width="0.45">90</text>
<text x="1188.50" y="333.90" font-size="29.00" text-anchor="start" font-weight="normal" fill="#111"  stroke="#111" stroke-width="0.45">70</text>
<text x="778.00" y="422.30" font-size="29.00" text-anchor="middle" font-weight="normal" fill="#111"  stroke="#111" stroke-width="0.45">0</text>
<text x="913.00" y="422.30" font-size="29.00" text-anchor="middle" font-weight="normal" fill="#111"  stroke="#111" stroke-width="0.45">20</text>
<text x="1048.00" y="422.30" font-size="29.00" text-anchor="middle" font-weight="normal" fill="#111"  stroke="#111" stroke-width="0.45">40</text>
<text x="1183.00" y="422.30" font-size="29.00" text-anchor="middle" font-weight="normal" fill="#111"  stroke="#111" stroke-width="0.45">60</text>
<text x="980.50" y="450.00" font-size="29.00" text-anchor="middle" font-weight="normal" fill="#111"  stroke="#111" stroke-width="0.45">Cycle number</text>
<text transform="translate(718.3,219) rotate(-90)" font-size="29.4" text-anchor="middle" fill="#111" stroke="#111" stroke-width="0.45">Normalized discharge capacity</text>
<text transform="translate(1256.3,235.7) rotate(90)" font-size="29.4" text-anchor="middle" fill="#111" stroke="#111" stroke-width="0.45">Electrode interfacial resistance (Ω)</text>
<text x="647.50" y="21.20" font-size="22.00" text-anchor="start" font-weight="bold" fill="#111"  stroke="#111" stroke-width="0.45">b</text>
<circle cx="784.75" cy="48.75" r="5.9" fill="#000"/>
<circle cx="791.50" cy="55.00" r="5.9" fill="#000"/>
<circle cx="798.25" cy="53.10" r="5.9" fill="#000"/>
<circle cx="805.00" cy="60.00" r="5.9" fill="#000"/>
<circle cx="811.75" cy="67.50" r="5.9" fill="#000"/>
<circle cx="818.50" cy="76.25" r="5.9" fill="#000"/>
<circle cx="825.25" cy="80.00" r="5.9" fill="#000"/>
<circle cx="832.00" cy="82.50" r="5.9" fill="#000"/>
<circle cx="838.75" cy="82.50" r="5.9" fill="#000"/>
<circle cx="845.50" cy="85.00" r="5.9" fill="#000"/>
<circle cx="852.25" cy="84.40" r="5.9" fill="#000"/>
<circle cx="886.00" cy="108.50" r="5.9" fill="#000"/>
<circle cx="892.75" cy="120.00" r="5.9" fill="#000"/>
<circle cx="899.50" cy="127.50" r="5.9" fill="#000"/>
<circle cx="906.25" cy="131.90" r="5.9" fill="#000"/>
<circle cx="913.00" cy="135.00" r="5.9" fill="#000"/>
<circle cx="919.75" cy="138.10" r="5.9" fill="#000"/>
<circle cx="926.50" cy="140.60" r="5.9" fill="#000"/>
<circle cx="933.25" cy="145.00" r="5.9" fill="#000"/>
<circle cx="967.00" cy="171.50" r="5.9" fill="#000"/>
<circle cx="973.75" cy="185.60" r="5.9" fill="#000"/>
<circle cx="980.50" cy="194.40" r="5.9" fill="#000"/>
<circle cx="987.25" cy="200.00" r="5.9" fill="#000"/>
<circle cx="994.00" cy="204.40" r="5.9" fill="#000"/>
<circle cx="1000.75" cy="208.75" r="5.9" fill="#000"/>
<circle cx="1007.50" cy="206.25" r="5.9" fill="#000"/>
<circle cx="1014.25" cy="213.10" r="5.9" fill="#000"/>
<circle cx="1021.00" cy="221.25" r="5.9" fill="#000"/>
<circle cx="1027.75" cy="225.60" r="5.9" fill="#000"/>
<circle cx="1034.50" cy="229.40" r="5.9" fill="#000"/>
<circle cx="1041.25" cy="232.50" r="5.9" fill="#000"/>
<circle cx="1048.00" cy="236.25" r="5.9" fill="#000"/>
<circle cx="1054.75" cy="239.40" r="5.9" fill="#000"/>
<circle cx="1061.50" cy="242.50" r="5.9" fill="#000"/>
<circle cx="1068.25" cy="245.60" r="5.9" fill="#000"/>
<circle cx="1102.00" cy="247.50" r="5.9" fill="#000"/>
<circle cx="1108.75" cy="256.25" r="5.9" fill="#000"/>
<circle cx="1115.50" cy="261.90" r="5.9" fill="#000"/>
<circle cx="1122.25" cy="266.90" r="5.9" fill="#000"/>
<circle cx="1129.00" cy="272.50" r="5.9" fill="#000"/>
<circle cx="1135.75" cy="278.10" r="5.9" fill="#000"/>
<circle cx="1142.50" cy="281.90" r="5.9" fill="#000"/>
<circle cx="1149.25" cy="285.60" r="5.9" fill="#000"/>
<rect x="823.38" y="191.00" width="10.5" height="10.5" fill="none" stroke="#111" stroke-width="2.8"/>
<rect x="850.38" y="197.85" width="10.5" height="10.5" fill="none" stroke="#111" stroke-width="2.8"/>
<rect x="877.38" y="218.15" width="10.5" height="10.5" fill="none" stroke="#d2161c" stroke-width="2.8"/>
<rect x="931.38" y="294.75" width="10.5" height="10.5" fill="none" stroke="#111" stroke-width="2.8"/>
<rect x="958.38" y="244.15" width="10.5" height="10.5" fill="none" stroke="#d2161c" stroke-width="2.8"/>
<rect x="1012.38" y="321.00" width="10.5" height="10.5" fill="none" stroke="#111" stroke-width="2.8"/>
<rect x="1039.38" y="333.50" width="10.5" height="10.5" fill="none" stroke="#111" stroke-width="2.8"/>
<rect x="1066.38" y="332.75" width="10.5" height="10.5" fill="none" stroke="#111" stroke-width="2.8"/>
<rect x="1093.38" y="288.50" width="10.5" height="10.5" fill="none" stroke="#d2161c" stroke-width="2.8"/>
<rect x="1147.38" y="342.25" width="10.5" height="10.5" fill="none" stroke="#111" stroke-width="2.8"/>
<text x="874.00" y="17.00" font-size="21.50" text-anchor="middle" font-weight="bold" fill="#d21a28"  stroke="#d21a28" stroke-width="0.45">4 DD</text>
<line x1="874.20" y1="25.70" x2="874.20" y2="78.50" stroke="#e0452c" stroke-width="2.6"/><path d="M874.20,82.50 L869.00,73.00 L874.20,75.50 L879.40,73.00 Z" fill="#e0452c"/>
<text x="954.00" y="75.50" font-size="21.50" text-anchor="middle" font-weight="bold" fill="#d21a28"  stroke="#d21a28" stroke-width="0.45">4 DD</text>
<line x1="954.40" y1="84.00" x2="954.40" y2="136.80" stroke="#e0452c" stroke-width="2.6"/><path d="M954.40,140.80 L949.20,131.30 L954.40,133.80 L959.60,131.30 Z" fill="#e0452c"/>
<text x="1086.50" y="165.00" font-size="21.50" text-anchor="middle" font-weight="bold" fill="#d21a28"  stroke="#d21a28" stroke-width="0.45">4 DD</text>
<line x1="1086.90" y1="173.75" x2="1086.90" y2="226.00" stroke="#e0452c" stroke-width="2.6"/><path d="M1086.90,230.00 L1081.70,220.50 L1086.90,223.00 L1092.10,220.50 Z" fill="#e0452c"/>
<line x1="853.75" y1="114.50" x2="797.30" y2="114.50" stroke="#111" stroke-width="2.5"/><path d="M791.50,114.50 L799.90,109.60 L797.30,114.50 L799.90,119.40 Z" fill="#111" stroke="#111" stroke-width="0.8" stroke-linejoin="round"/>
<line x1="1068.75" y1="368.40" x2="1124.85" y2="368.40" stroke="#111" stroke-width="2.5"/><path d="M1130.65,368.40 L1122.25,363.50 L1124.85,368.40 L1122.25,373.30 Z" fill="#111" stroke="#111" stroke-width="0.8" stroke-linejoin="round"/></g>
<g id="pc"><rect x="449.00" y="549.50" width="404.50" height="340.00" stroke="#8a8a8a" stroke-width="1.6" fill="none"/>
<line x1="449.00" y1="889.50" x2="453.00" y2="889.50" stroke="#8a8a8a" stroke-width="1.2"/>
<line x1="853.50" y1="889.50" x2="849.50" y2="889.50" stroke="#8a8a8a" stroke-width="1.2"/>
<line x1="449.00" y1="776.17" x2="453.00" y2="776.17" stroke="#8a8a8a" stroke-width="1.2"/>
<line x1="853.50" y1="776.17" x2="849.50" y2="776.17" stroke="#8a8a8a" stroke-width="1.2"/>
<line x1="449.00" y1="662.83" x2="453.00" y2="662.83" stroke="#8a8a8a" stroke-width="1.2"/>
<line x1="853.50" y1="662.83" x2="849.50" y2="662.83" stroke="#8a8a8a" stroke-width="1.2"/>
<line x1="449.00" y1="549.50" x2="453.00" y2="549.50" stroke="#8a8a8a" stroke-width="1.2"/>
<line x1="853.50" y1="549.50" x2="849.50" y2="549.50" stroke="#8a8a8a" stroke-width="1.2"/>
<line x1="583.83" y1="889.50" x2="583.83" y2="885.50" stroke="#8a8a8a" stroke-width="1.2"/>
<line x1="583.83" y1="549.50" x2="583.83" y2="553.50" stroke="#8a8a8a" stroke-width="1.2"/>
<line x1="718.67" y1="889.50" x2="718.67" y2="885.50" stroke="#8a8a8a" stroke-width="1.2"/>
<line x1="718.67" y1="549.50" x2="718.67" y2="553.50" stroke="#8a8a8a" stroke-width="1.2"/>
<text x="443.50" y="561.10" font-size="29.00" text-anchor="end" font-weight="normal" fill="#111"  stroke="#111" stroke-width="0.45">1.00</text>
<text x="443.50" y="674.43" font-size="29.00" text-anchor="end" font-weight="normal" fill="#111"  stroke="#111" stroke-width="0.45">0.98</text>
<text x="443.50" y="787.77" font-size="29.00" text-anchor="end" font-weight="normal" fill="#111"  stroke="#111" stroke-width="0.45">0.96</text>
<text x="443.50" y="901.10" font-size="29.00" text-anchor="end" font-weight="normal" fill="#111"  stroke="#111" stroke-width="0.45">0.94</text>
<text x="449.00" y="921.50" font-size="29.00" text-anchor="middle" font-weight="normal" fill="#111"  stroke="#111" stroke-width="0.45">0</text>
<text x="583.83" y="921.50" font-size="29.00" text-anchor="middle" font-weight="normal" fill="#111"  stroke="#111" stroke-width="0.45">20</text>
<text x="718.67" y="921.50" font-size="29.00" text-anchor="middle" font-weight="normal" fill="#111"  stroke="#111" stroke-width="0.45">40</text>
<text x="853.50" y="921.50" font-size="29.00" text-anchor="middle" font-weight="normal" fill="#111"  stroke="#111" stroke-width="0.45">60</text>
<text x="651.25" y="950.00" font-size="29.00" text-anchor="middle" font-weight="normal" fill="#111"  stroke="#111" stroke-width="0.45">Cycle number</text>
<text transform="translate(337.5,719.2) rotate(-90)" font-size="29.4" text-anchor="middle" fill="#111" stroke="#111" stroke-width="0.45">Coulombic efficiency</text>
<text transform="translate(372.3,719.2) rotate(-90)" font-size="29.4" text-anchor="middle" fill="#111" stroke="#111" stroke-width="0.45">(mAh/mAh)</text>
<text x="303.00" y="548.40" font-size="22.50" text-anchor="start" font-weight="bold" fill="#111"  stroke="#111" stroke-width="0.45">c</text>
<circle cx="455.34" cy="888.00" r="6.3" fill="#000"/>
<circle cx="462.08" cy="808.00" r="6.3" fill="#000"/>
<circle cx="482.31" cy="626.25" r="6.3" fill="#000"/>
<circle cx="489.05" cy="605.90" r="6.3" fill="#000"/>
<circle cx="509.28" cy="568.50" r="6.3" fill="#000"/>
<circle cx="516.02" cy="568.10" r="6.3" fill="#000"/>
<circle cx="563.21" cy="597.90" r="6.3" fill="#000"/>
<circle cx="569.95" cy="582.50" r="6.3" fill="#000"/>
<circle cx="576.69" cy="575.60" r="6.3" fill="#000"/>
<circle cx="583.43" cy="571.90" r="6.3" fill="#000"/>
<circle cx="590.18" cy="573.75" r="6.3" fill="#000"/>
<circle cx="596.92" cy="572.50" r="6.3" fill="#000"/>
<circle cx="644.11" cy="634.20" r="6.3" fill="#000"/>
<circle cx="650.85" cy="608.90" r="6.3" fill="#000"/>
<circle cx="657.59" cy="596.20" r="6.3" fill="#000"/>
<circle cx="664.33" cy="593.00" r="6.3" fill="#000"/>
<circle cx="671.08" cy="592.50" r="6.3" fill="#000"/>
<circle cx="677.82" cy="582.60" r="6.3" fill="#000"/>
<circle cx="698.04" cy="585.00" r="6.3" fill="#000"/>
<circle cx="704.78" cy="584.50" r="6.3" fill="#000"/>
<circle cx="725.01" cy="589.70" r="6.3" fill="#000"/>
<circle cx="731.75" cy="590.60" r="6.3" fill="#000"/>
<circle cx="778.94" cy="648.50" r="6.3" fill="#000"/>
<circle cx="785.68" cy="617.40" r="6.3" fill="#000"/>
<circle cx="792.43" cy="605.00" r="6.3" fill="#000"/>
<circle cx="799.17" cy="590.10" r="6.3" fill="#000"/>
<circle cx="805.91" cy="593.00" r="6.3" fill="#000"/>
<circle cx="812.65" cy="594.70" r="6.3" fill="#000"/>
<text x="537.50" y="692.50" font-size="21.50" text-anchor="middle" font-weight="bold" fill="#d21a28"  stroke="#d21a28" stroke-width="0.45">4 DD</text>
<line x1="537.10" y1="663.75" x2="537.10" y2="610.90" stroke="#e0452c" stroke-width="2.6"/><path d="M537.10,606.90 L531.90,616.40 L537.10,613.90 L542.30,616.40 Z" fill="#e0452c"/>
<text x="616.50" y="716.00" font-size="21.50" text-anchor="middle" font-weight="bold" fill="#d21a28"  stroke="#d21a28" stroke-width="0.45">4 DD</text>
<line x1="616.50" y1="691.90" x2="616.50" y2="639.60" stroke="#e0452c" stroke-width="2.6"/><path d="M616.50,635.60 L611.30,645.10 L616.50,642.60 L621.70,645.10 Z" fill="#e0452c"/>
<text x="753.00" y="746.30" font-size="21.50" text-anchor="middle" font-weight="bold" fill="#d21a28"  stroke="#d21a28" stroke-width="0.45">4 DD</text>
<line x1="753.75" y1="721.25" x2="753.75" y2="669.00" stroke="#e0452c" stroke-width="2.6"/><path d="M753.75,665.00 L748.55,674.50 L753.75,672.00 L758.95,674.50 Z" fill="#e0452c"/>
<line x1="529.20" y1="542.60" x2="792.60" y2="567.80" stroke="#1a1a1a" stroke-width="2.6" stroke-dasharray="9 6.9"/>
<polyline points="786.55,562.91 794.60,568.00 785.73,571.47" fill="none" stroke="#111" stroke-width="2.7" stroke-linejoin="round"/></g>
</svg></body></html>
